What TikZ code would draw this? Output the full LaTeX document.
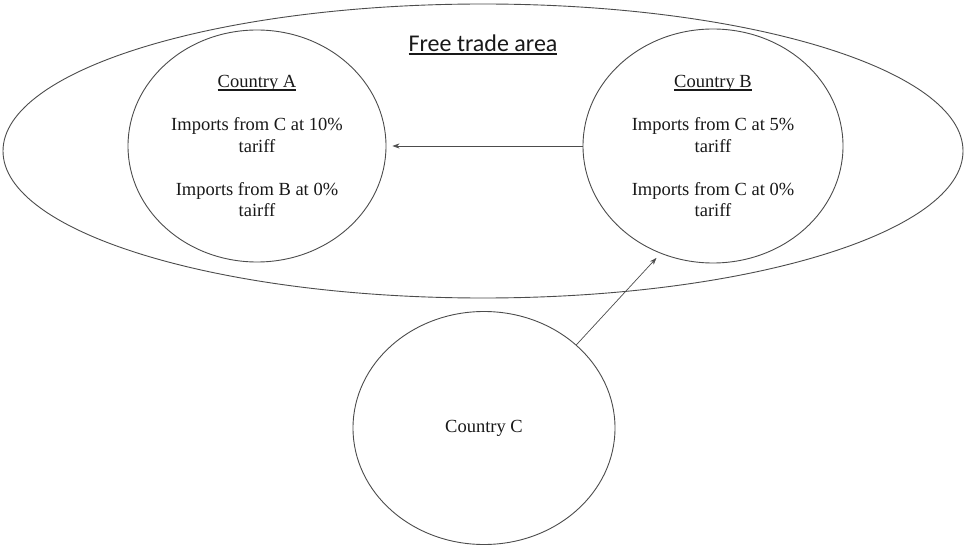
\documentclass[tikz,border=0pt]{standalone}
\usepackage{fontspec}
\setmainfont{Liberation Serif}
\newfontfamily\calibri{Carlito}
\usetikzlibrary{shapes.geometric,arrows.meta}
\newsavebox\myulbox
\newcommand\myul[2]{\sbox\myulbox{#2}\rlap{\rule[-#1]{\wd\myulbox}{0.06em}}\usebox\myulbox}
\begin{document}
\begin{tikzpicture}[x=1pt,y=-1pt,
  region/.style={draw=black!70, line width=0.9pt, ellipse, inner sep=0pt},
  body/.style={font=\fontsize{18.5}{21.5}\selectfont, align=center, text=black!90},
  flow/.style={-{Stealth[length=7pt,width=5pt]}, draw=black!70, line width=0.7pt, shorten >=6pt}]
\useasboundingbox (0,0) rectangle (965,545);
\fill[white] (0,0) rectangle (965,545);
\node[region, minimum width=960pt, minimum height=294pt] (F) at (483,151) {};
\node[font=\calibri\fontsize{24}{28}\selectfont, text=black!90, inner sep=0pt] (T) at (483,45) {\myul{3pt}{Free trade area}};
\node[region, body, minimum width=258pt, minimum height=232pt] (A) at (257,146)
  {\myul{3pt}{Country A}\\[21.5pt]Imports from C at 10\%\\tariff\\[21.5pt]Imports from B at 0\%\\tairff};
\node[region, body, minimum width=260pt, minimum height=234pt] (B) at (713,146)
  {\myul{3pt}{Country B}\\[21.5pt]Imports from C at 5\%\\tariff\\[21.5pt]Imports from C at 0\%\\tariff};
\node[region, body, minimum width=262pt, minimum height=233pt] (C) at (484,428) {Country C};
\draw[flow] (B.west) -- (A.east);
\draw[flow] (C.42) -- (B.244);
\end{tikzpicture}
\end{document}
